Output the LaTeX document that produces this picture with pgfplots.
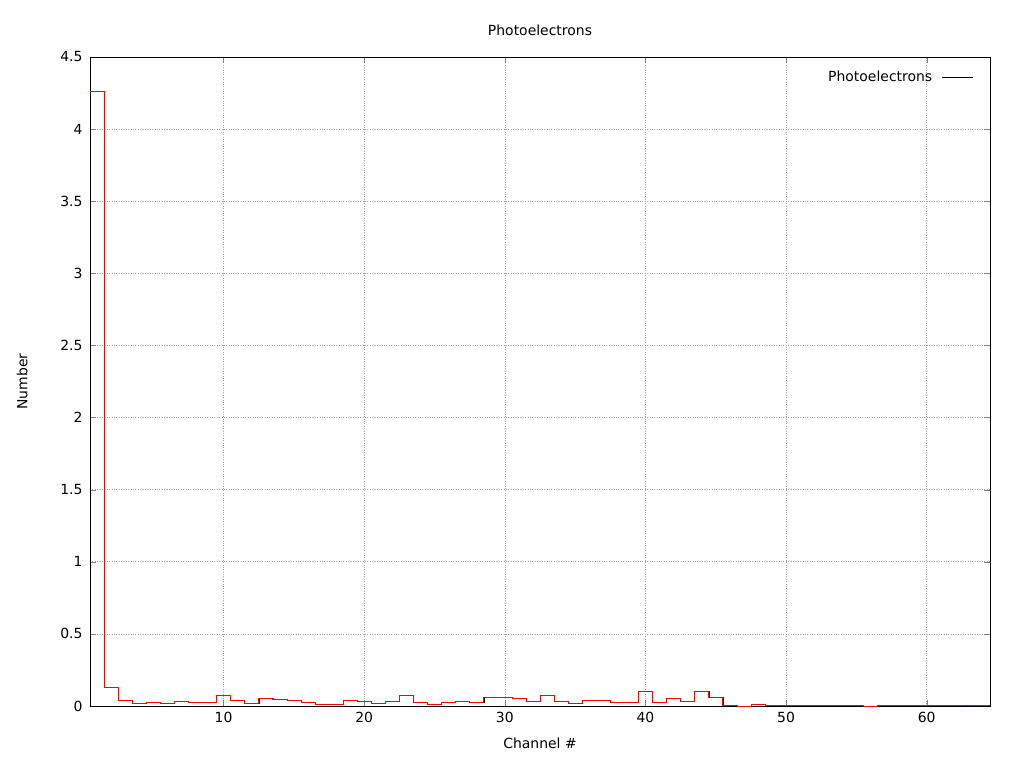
\documentclass[border=0pt]{standalone}
\usepackage{pgfplots}
\pgfplotsset{compat=1.18}
\usepackage{fontspec}
\setmainfont{DejaVu Sans}
\pgfplotstableread{
x y
0.5 4.26
1.5 0.13
2.5 0.04
3.5 0.02
4.5 0.025
5.5 0.02
6.5 0.033
7.5 0.025
8.5 0.025
9.5 0.076
10.5 0.04
11.5 0.02
12.5 0.053
13.5 0.046
14.5 0.04
15.5 0.025
16.5 0.012
17.5 0.012
18.5 0.04
19.5 0.033
20.5 0.02
21.5 0.033
22.5 0.076
23.5 0.025
24.5 0.012
25.5 0.025
26.5 0.033
27.5 0.025
28.5 0.06
29.5 0.06
30.5 0.053
31.5 0.033
32.5 0.076
33.5 0.033
34.5 0.02
35.5 0.04
36.5 0.04
37.5 0.025
38.5 0.025
39.5 0.1
40.5 0.025
41.5 0.053
42.5 0.033
43.5 0.1
44.5 0.06
45.5 0.003
46.5 0.0
47.5 0.012
48.5 0.003
49.5 0.003
50.5 0.003
51.5 0.003
52.5 0.003
53.5 0.003
54.5 0.003
55.5 0.0
56.5 0.003
57.5 0.007
58.5 0.003
59.5 0.003
60.5 0.003
61.5 0.003
62.5 0.007
63.5 0.007
64.5 0.007
}\data
\begin{document}
\begin{tikzpicture}
\useasboundingbox (-90bp,-62bp) rectangle ++(1024bp,768bp);
\begin{axis}[at={(0,0)},anchor=south west,
  scale only axis, width=900bp, height=649bp,
  xmin=0.5, xmax=64.5, ymin=0, ymax=4.5,
  xtick={10,20,...,60}, ytick={0,0.5,...,4.5},
  yticklabel style={/pgf/number format/fixed, xshift=-4bp},
  xticklabel style={yshift=-3bp},
  /pgf/number format/assume math mode=true,
  tick align=inside, major tick length=6bp,
  grid=major, grid style={gray!70, dotted, line width=0.6pt},
  axis line style={line width=0.6pt},
  tick label style={font=\fontsize{14}{16}\selectfont},
  label style={font=\fontsize{14}{16}\selectfont},
  title style={font=\fontsize{14}{16}\selectfont, yshift=12bp},
  title={Photoelectrons}, xlabel={Channel \#}, ylabel={Number},
  xlabel style={yshift=-8bp}, ylabel style={yshift=26bp},
  legend style={draw=none, fill=none, at={(0.985,0.985)}, anchor=north east,
    font=\fontsize{14}{16}\selectfont, column sep=8bp},
  legend cell align=right, legend plot pos=right,
  legend image post style={xscale=1.8},
]
\addplot[black, const plot mark left, line width=0.5pt] table[x=x,y=y]{\data};
\addlegendentry{Photoelectrons\hspace{10bp}}
\addplot[red, const plot mark left, line width=0.7pt, forget plot] table[x=x,y=y]{\data};
\end{axis}
\end{tikzpicture}
\end{document}
